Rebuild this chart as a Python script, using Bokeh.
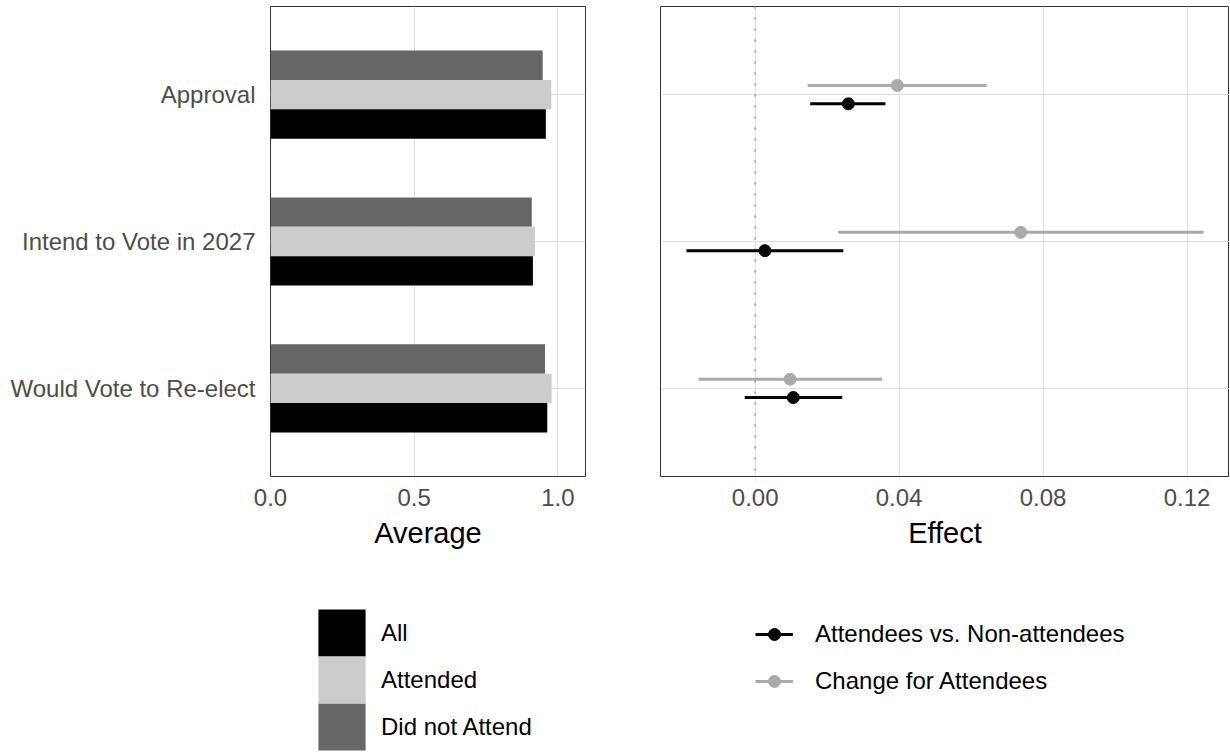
from bokeh.plotting import figure
from bokeh.models import (FactorRange, Range1d, FixedTicker, NumeralTickFormatter,
                          Legend, LegendItem, Span, ColumnDataSource)
from bokeh.transform import dodge
from bokeh.layouts import row, column
from bokeh.embed import file_html
from bokeh.resources import INLINE

# ---------------- data ----------------
categories = ["Approval", "Intend to Vote in 2027", "Would Vote to Re-elect"]
group_labels = ["All", "Attended", "Did not Attend"]
avg_all = [0.958, 0.913, 0.963]
avg_attended = [0.977, 0.920, 0.978]
avg_not_attended = [0.947, 0.909, 0.955]

effect_labels = ["Attendees vs. Non-attendees", "Change for Attendees"]
diff_est = [0.0259, 0.0027, 0.0106]
diff_lo = [0.0153, -0.0191, -0.0029]
diff_hi = [0.0362, 0.0245, 0.0242]
chg_est = [0.0395, 0.0738, 0.0097]
chg_lo = [0.0146, 0.0231, -0.0157]
chg_hi = [0.0643, 0.1246, 0.0353]

avg_ticks = [0.0, 0.5, 1.0]
eff_ticks = [0.0, 0.04, 0.08, 0.12]

FONT = "Liberation Sans"
GRID = "#DEDEDE"
TXT = "#4D4D4D"
BAR_COLORS = {"all": "#000000", "att": "#CCCCCC", "nat": "#666666"}
DIFF_COLOR = "#000000"
CHG_COLOR = "#AAAAAA"


def style(p):
    p.outline_line_color = "#333333"
    p.outline_line_width = 1
    p.xgrid.grid_line_color = GRID
    p.ygrid.grid_line_color = GRID
    p.xaxis.axis_line_color = None
    p.xaxis.major_tick_line_color = None
    p.xaxis.minor_tick_line_color = None
    p.xaxis.major_label_text_font = FONT
    p.xaxis.major_label_text_font_size = "24px"
    p.xaxis.major_label_text_color = TXT
    p.xaxis.major_label_standoff = 6
    p.xaxis.axis_label_text_font = FONT
    p.xaxis.axis_label_text_font_size = "29px"
    p.xaxis.axis_label_text_font_style = "normal"
    p.xaxis.axis_label_text_color = "#000000"
    p.xaxis.axis_label_standoff = 8
    p.background_fill_color = "white"
    p.border_fill_color = "white"


def legend_fig(width, height, xr, yr):
    f = figure(width=width, height=height, x_range=xr, y_range=yr,
               x_axis_location=None, y_axis_location=None,
               min_border=0, min_border_left=0, min_border_right=0,
               min_border_top=0, min_border_bottom=0,
               output_backend="svg", toolbar_location=None)
    f.grid.visible = False
    f.outline_line_color = None
    f.background_fill_color = "white"
    f.border_fill_color = "white"
    return f


def add_bars(p, yr, src, visible=True):
    r = {}
    r["nat"] = p.hbar(y=dodge("cat", 0.2, range=yr), left=0, right="nat", height=0.2,
                      fill_color=BAR_COLORS["nat"], line_color=None, source=src, visible=visible)
    r["att"] = p.hbar(y=dodge("cat", 0.0, range=yr), left=0, right="att", height=0.2,
                      fill_color=BAR_COLORS["att"], line_color=None, source=src, visible=visible)
    r["all"] = p.hbar(y=dodge("cat", -0.2, range=yr), left=0, right="all", height=0.2,
                      fill_color=BAR_COLORS["all"], line_color=None, source=src, visible=visible)
    return r


def add_effects(p, yr, src, visible=True):
    yc = dodge("cat", 0.0625, range=yr)
    yd = dodge("cat", -0.0625, range=yr)
    s_c = p.segment(x0="clo", x1="chi", y0=yc, y1=yc, line_color=CHG_COLOR, line_width=3,
                    source=src, visible=visible)
    m_c = p.scatter(x="c", y=yc, size=12, fill_color=CHG_COLOR, line_color=CHG_COLOR,
                    source=src, visible=visible)
    s_d = p.segment(x0="dlo", x1="dhi", y0=yd, y1=yd, line_color=DIFF_COLOR, line_width=3,
                    source=src, visible=visible)
    m_d = p.scatter(x="d", y=yd, size=12, fill_color=DIFF_COLOR, line_color=DIFF_COLOR,
                    source=src, visible=visible)
    return s_c, m_c, s_d, m_d


def leg(items, location, gw, gh, spacing, standoff):
    return Legend(items=items, location=location, orientation="vertical",
                  glyph_width=gw, glyph_height=gh, spacing=spacing, padding=0, margin=0,
                  label_standoff=standoff, label_text_font=FONT,
                  label_text_font_size="24px", label_text_color="#000000",
                  border_line_color=None, background_fill_alpha=0)


# ---------------- left panel ----------------
x1 = Range1d(0, 1.096)
y1 = FactorRange(factors=categories[::-1], range_padding=0.1, range_padding_units="absolute")
p1 = figure(y_range=y1, x_range=x1, frame_width=315, frame_height=470,
            min_border_left=270, min_border_right=35, min_border_top=6, min_border_bottom=90,
            output_backend="svg", toolbar_location=None)
style(p1)
p1.xaxis.ticker = FixedTicker(ticks=avg_ticks)
p1.xaxis.formatter = NumeralTickFormatter(format="0.0")
p1.xaxis.axis_label = "Average"
p1.yaxis.axis_line_color = None
p1.yaxis.major_tick_line_color = None
p1.yaxis.major_label_text_font = FONT
p1.yaxis.major_label_text_font_size = "24px"
p1.yaxis.major_label_text_color = TXT
p1.yaxis.major_label_standoff = 9

src1 = ColumnDataSource(dict(cat=categories, all=avg_all, att=avg_attended, nat=avg_not_attended))
add_bars(p1, y1, src1)

# ---------------- right panel ----------------
x2 = Range1d(-0.0263, 0.1318)
y2 = FactorRange(factors=categories[::-1], range_padding=0.1, range_padding_units="absolute")
p2 = figure(y_range=y2, x_range=x2, frame_width=569, frame_height=470,
            min_border_left=40, min_border_right=0, min_border_top=6, min_border_bottom=90,
            output_backend="svg", toolbar_location=None)
style(p2)
p2.yaxis.visible = False
p2.xaxis.ticker = FixedTicker(ticks=eff_ticks)
p2.xaxis.formatter = NumeralTickFormatter(format="0.00")
p2.xaxis.axis_label = "Effect"

p2.add_layout(Span(location=0, dimension="height", line_color="#A8A8A8", line_width=2,
                   line_dash="2 9", level="underlay"))

src2 = ColumnDataSource(dict(cat=categories, d=diff_est, dlo=diff_lo, dhi=diff_hi,
                             c=chg_est, clo=chg_lo, chi=chg_hi))
add_effects(p2, y2, src2)

# ---------------- legends (separate strips below the panels) ----------------
L1 = legend_fig(620, 185, x1, y1)
lb = add_bars(L1, y1, src1, visible=False)
legA = leg([LegendItem(label=group_labels[0], renderers=[lb["all"]]),
            LegendItem(label=group_labels[2], renderers=[lb["nat"]])],
           (312, -5), 59, 59, 35, 10)
legB = leg([LegendItem(label=group_labels[1], renderers=[lb["att"]])],
           (312, 42), 59, 59, 0, 10)
L1.add_layout(legA, "center")
L1.add_layout(legB, "center")

L2 = legend_fig(609, 185, x2, y2)
s_c, m_c, s_d, m_d = add_effects(L2, y2, src2, visible=False)
legC = leg([LegendItem(label=effect_labels[0], renderers=[s_d, m_d]),
            LegendItem(label=effect_labels[1], renderers=[s_c, m_c])],
           (135, 55), 38, 30, 17, 22)
L2.add_layout(legC, "center")

layout = column(row(p1, p2), row(L1, L2))
open("out.html", "w").write(file_html(layout, INLINE))
